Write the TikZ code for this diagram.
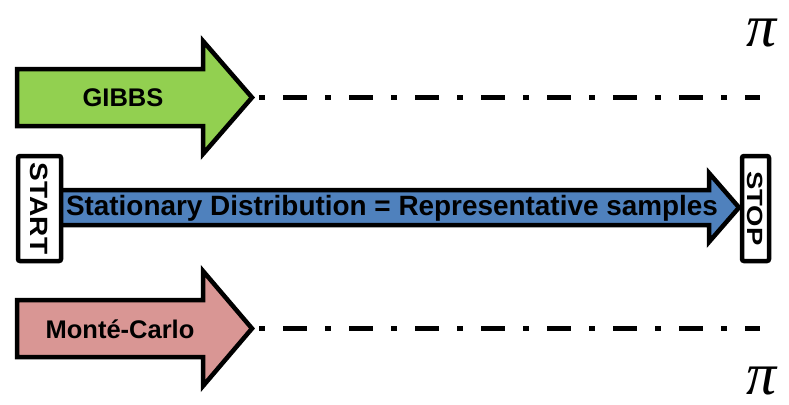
\documentclass[tikz,border=0pt]{standalone}
\usepackage{fontspec}
\setmainfont{Liberation Sans}
\newfontfamily\pifont{Liberation Serif}
\usepackage{graphicx}
\definecolor{gibbsgreen}{HTML}{92D050}
\definecolor{statblue}{HTML}{4F81BD}
\definecolor{mcpink}{HTML}{D99694}
\begin{document}
\begin{tikzpicture}[x=1pt,y=-1pt,
  arrowbody/.style={draw=black,line width=4.5pt,line join=miter,miter limit=10},
  boxframe/.style={draw=black,fill=white,line width=4.5pt,rounded corners=2pt},
  label/.style={inner sep=0pt,font=\bfseries\fontsize{25.5}{25.5}\selectfont},
  trail/.style={line width=5pt,dash pattern=on 6pt off 18pt on 24pt off 18pt},
  pisym/.style={inner sep=0pt,text depth=0pt,text height=30pt,font=\pifont\itshape\fontsize{60}{60}\selectfont}]
\useasboundingbox (0,0) rectangle (789,404);

% GIBBS arrow and its trail
\draw[arrowbody,fill=gibbsgreen]
  (17,69) -- (203,69) -- (203,41) -- (252,97.5) -- (203,154) -- (203,126) -- (17,126) -- cycle;
\node[label] (gibbs) at (123,98) {GIBBS};
\coordinate (gtip) at (259,97.5);
\coordinate (gend) at (760,97.5);
\draw[trail] (gtip) -- (gend);

% Monte-Carlo arrow and its trail
\draw[arrowbody,fill=mcpink]
  (17,300) -- (203,300) -- (203,271) -- (252,328.5) -- (203,386) -- (203,357) -- (17,357) -- cycle;
\node[label] (mc) at (120,329) {Monté-Carlo};
\coordinate (mtip) at (259,328.5);
\coordinate (mend) at (760,328.5);
\draw[trail] (mtip) -- (mend);

% main blue arrow between START and STOP
\draw[arrowbody,fill=statblue]
  (60,190) -- (709,190) -- (709,173) -- (739,207.5) -- (709,242) -- (709,225) -- (60,225) -- cycle;
\node[inner sep=0pt,font=\bfseries\fontsize{27.9}{27.9}\selectfont] (stat) at (392,208)
  {Stationary Distribution = Representative samples};

\node[boxframe,minimum width=43pt,minimum height=105pt,inner sep=0pt] (startbox) at (39.5,208.5) {};
\node[label,rotate=-90,font=\bfseries\fontsize{25}{25}\selectfont] (start) at (startbox.center)
  {\scalebox{1.12}[1]{START}};

\node[boxframe,minimum width=27pt,minimum height=105pt,inner sep=0pt] (stopbox) at (755.5,208.5) {};
\node[label,rotate=-90,font=\bfseries\fontsize{22}{22}\selectfont] (stop) at (stopbox.center)
  {\scalebox{1.25}[1]{STOP}};

% target distribution symbols
\node[pisym,anchor=base] (pitop) at (762,47) {π};
\node[pisym,anchor=base] (pibot) at (762,394) {π};
\end{tikzpicture}
\end{document}
